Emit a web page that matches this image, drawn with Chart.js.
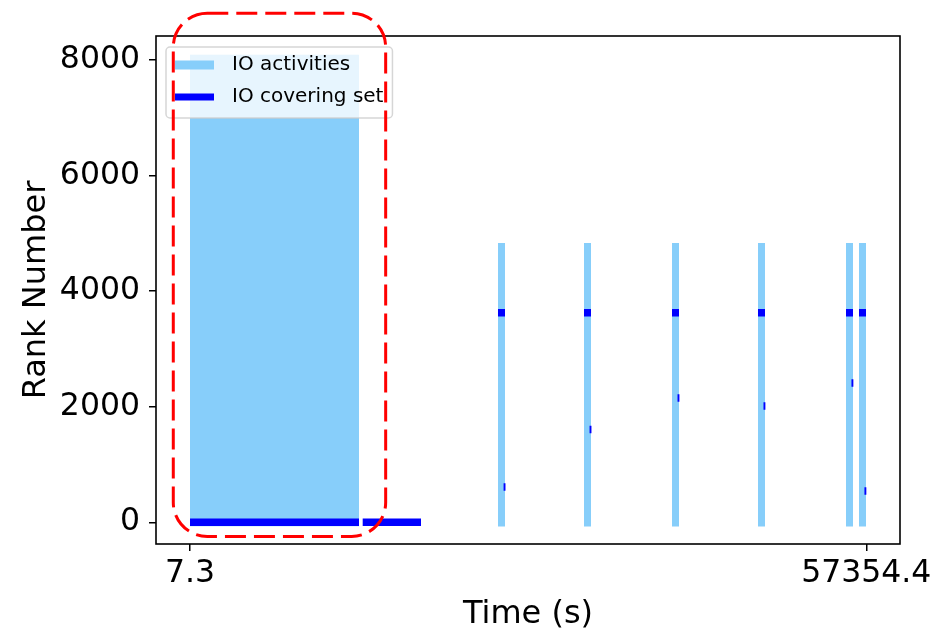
<!DOCTYPE html>
<html>
<head>
<meta charset="utf-8">
<script src="https://cdn.jsdelivr.net/npm/chart.js@4.4.0/dist/chart.umd.min.js"></script>
<style>
  html, body { margin: 0; padding: 0; background: #fff; }
  #wrap { width: 938px; height: 635px; }
</style>
</head>
<body>
<div id="wrap"><canvas id="chart" width="938" height="635"></canvas></div>
<script>
// first dense burst: every rank does IO
const blockTimes = [7.3, 14338];
const blockRanks = [-70, 8090];

// later bursts, about 4800 ranks each
const burstTimes = [26422, 33715, 41178, 48470, 55933, 57035];
const burstRanks = [-75, 4834];

// covering set segments (start time, end time, rank)
const coverStart = [7.3, 14652, 26125, 33418, 40881, 48173, 55636, 56738, 26600, 33890, 41350, 48640, 56100, 57200];
const coverEnd = [14338, 19596, 26719, 34012, 41474, 48767, 56229, 57332, 26760, 34050, 41510, 48800, 56260, 57360];
const coverRanks = [0, 0, 3626, 3626, 3626, 3626, 3626, 3626, 610, 1606, 2152, 2013, 2412, 541];

const xTicks = [7.3, 57354.4];
const yTicks = [0, 2000, 4000, 6000, 8000];
const xRange = [-2876, 60215];
const yRange = [-376, 8415];

// dashed box around the first burst
const highlightTimes = [-1410, 16600];
const highlightRanks = [-245, 8810];

const lightBlue = '#87CEFA';
const blue = '#0000FF';
const fontFamily = '"DejaVu Sans", sans-serif';

const blockData = blockTimes.map(t => ({x: t, y: blockRanks[1]}));
const burstData = [];
for (let t of burstTimes) {
  burstData.push({x: t, y: burstRanks[0]}, {x: t, y: burstRanks[1]}, {x: t, y: null});
}
const coverData = [];
for (let i = 0; i < coverStart.length; i++) {
  coverData.push({x: coverStart[i], y: coverRanks[i]}, {x: coverEnd[i], y: coverRanks[i]}, {x: coverEnd[i], y: null});
}

function roundedPath(ctx, x, y, w, h, r) {
  ctx.beginPath();
  ctx.moveTo(x + r, y);
  ctx.arcTo(x + w, y, x + w, y + h, r);
  ctx.arcTo(x + w, y + h, x, y + h, r);
  ctx.arcTo(x, y + h, x, y, r);
  ctx.arcTo(x, y, x + w, y, r);
  ctx.closePath();
}

const frameAndLegend = {
  id: 'frameAndLegend',
  afterDatasetsDraw(chart) {
    const {ctx, chartArea: a} = chart;
    ctx.save();
    ctx.strokeStyle = '#000';
    ctx.lineWidth = 1.6;
    ctx.strokeRect(a.left, a.top, a.right - a.left, a.bottom - a.top);
    ctx.restore();
  },
  afterDraw(chart) {
    const {ctx, chartArea: a} = chart;

    // legend inside the plot, top left
    const seen = new Set();
    const items = [];
    chart.data.datasets.forEach(ds => {
      if (ds.label && !seen.has(ds.label)) {
        seen.add(ds.label);
        items.push(ds);
      }
    });
    ctx.save();
    ctx.font = '20px ' + fontFamily;
    const textW = Math.max(...items.map(d => ctx.measureText(d.label).width));
    const x0 = a.left + 10, y0 = a.top + 11;
    const w = 9 + 39 + 18 + textW + 9;
    const h = 32 * items.length + 7;
    roundedPath(ctx, x0, y0, w, h, 4);
    ctx.fillStyle = 'rgba(255,255,255,0.8)';
    ctx.fill();
    ctx.strokeStyle = 'rgba(204,204,204,0.8)';
    ctx.lineWidth = 1.5;
    ctx.stroke();
    items.forEach((d, i) => {
      const cy = y0 + 18 + i * 32;
      ctx.beginPath();
      ctx.strokeStyle = d.borderColor;
      ctx.lineWidth = d.legendWidth || d.borderWidth;
      ctx.moveTo(x0 + 9, cy);
      ctx.lineTo(x0 + 48, cy);
      ctx.stroke();
      ctx.fillStyle = '#000';
      ctx.textBaseline = 'middle';
      ctx.fillText(d.label, x0 + 66, cy);
    });

    // red dashed highlight
    const xs = chart.scales.x, ys = chart.scales.y;
    const l = xs.getPixelForValue(highlightTimes[0]);
    const r = xs.getPixelForValue(highlightTimes[1]);
    const t = ys.getPixelForValue(highlightRanks[1]);
    const b = ys.getPixelForValue(highlightRanks[0]);
    ctx.setLineDash([21, 8]);
    ctx.strokeStyle = '#ff0000';
    ctx.lineWidth = 3;
    roundedPath(ctx, l, t, r - l, b - t, 34);
    ctx.stroke();
    ctx.restore();
  }
};

const tickFont = {family: fontFamily, size: 31.5};
const titleFont = {family: fontFamily, size: 32, lineHeight: 1};

new Chart(document.getElementById('chart'), {
  type: 'scatter',
  data: {
    datasets: [
      {
        label: 'IO activities',
        data: blockData,
        showLine: true,
        borderWidth: 0,
        legendWidth: 9,
        borderColor: lightBlue,
        backgroundColor: lightBlue,
        fill: {value: blockRanks[0]},
        pointRadius: 0,
        order: 3
      },
      {
        label: 'IO activities',
        data: burstData,
        showLine: true,
        borderWidth: 7,
        legendWidth: 9,
        borderColor: lightBlue,
        borderCapStyle: 'butt',
        pointRadius: 0,
        spanGaps: false,
        order: 2
      },
      {
        label: 'IO covering set',
        data: coverData,
        showLine: true,
        borderWidth: 7.5,
        legendWidth: 7,
        borderColor: blue,
        borderCapStyle: 'butt',
        pointRadius: 0,
        spanGaps: false,
        order: 1
      }
    ]
  },
  options: {
    responsive: false,
    animation: false,
    events: [],
    layout: {padding: {top: 36, right: 38, left: 0, bottom: 0}},
    plugins: {
      legend: {display: false},
      tooltip: {enabled: false}
    },
    scales: {
      x: {
        type: 'linear',
        min: xRange[0],
        max: xRange[1],
        afterBuildTicks: s => { s.ticks = xTicks.map(v => ({value: v})) },
        afterFit: s => { s.height = 91; s.paddingLeft = 0; s.paddingRight = 0 },
        ticks: {
          callback: v => String(v),
          font: tickFont,
          color: '#000',
          padding: 4,
          maxRotation: 0,
          autoSkip: false
        },
        grid: {drawOnChartArea: false, drawTicks: true, tickLength: 7, color: '#000', lineWidth: 1.5},
        border: {display: false},
        title: {display: true, text: 'Time (s)', font: titleFont, color: '#000', padding: {top: 0, bottom: 4}}
      },
      y: {
        type: 'linear',
        min: yRange[0],
        max: yRange[1],
        afterBuildTicks: s => { s.ticks = yTicks.map(v => ({value: v})) },
        afterFit: s => { s.width = 156; s.paddingTop = 0; s.paddingBottom = 0 },
        ticks: {
          callback: v => String(v),
          font: tickFont,
          color: '#000',
          padding: 9
        },
        grid: {drawOnChartArea: false, drawTicks: true, tickLength: 7, color: '#000', lineWidth: 1.5},
        border: {display: false},
        title: {display: true, text: 'Rank Number', font: titleFont, color: '#000', padding: {top: 21, bottom: 0}}
      }
    }
  },
  plugins: [frameAndLegend]
});
</script>
</body>
</html>
